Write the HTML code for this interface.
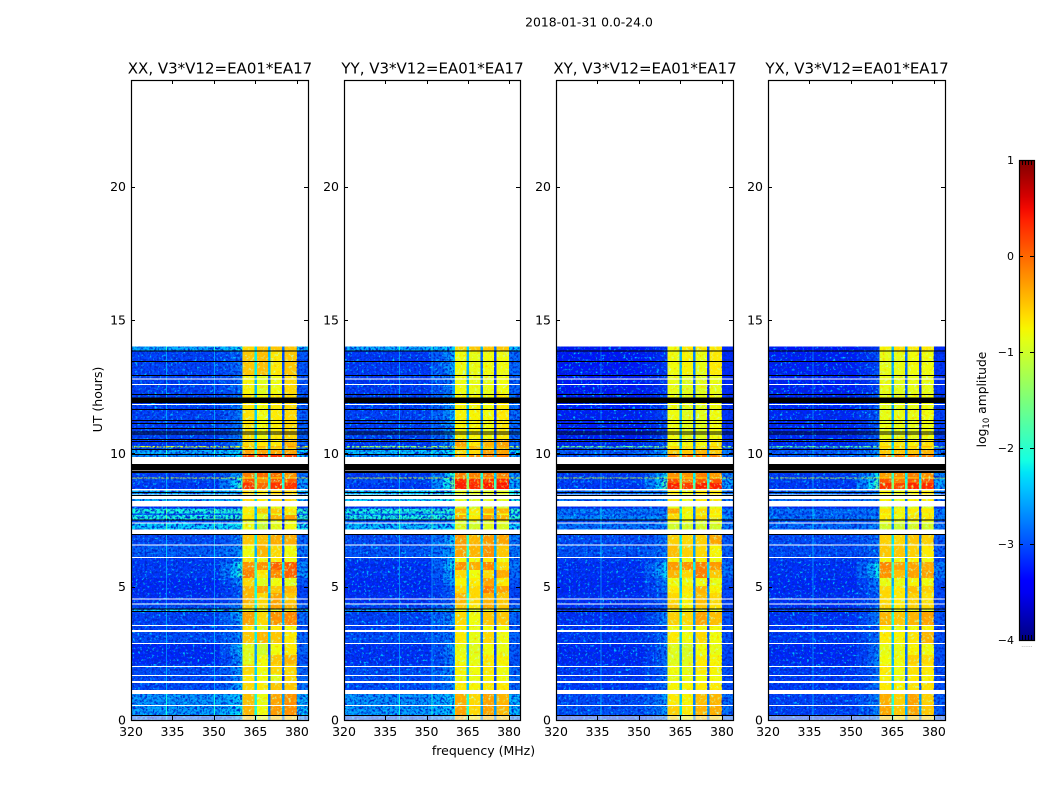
<!DOCTYPE html>
<html>
<head>
<meta charset="utf-8">
<title>2018-01-31 amplitude waterfall</title>
<style>
html,body{margin:0;padding:0;background:#fff;width:1050px;height:800px;overflow:hidden}
svg{display:block;font-family:"DejaVu Sans","Liberation Sans",sans-serif;fill:#000}
</style>
</head>
<body>
<svg id="chart" xmlns="http://www.w3.org/2000/svg" width="1050" height="800" viewBox="0 0 1050 800">
<defs>
<filter id="speckleDark" x="0" y="0" width="1" height="1">
<feTurbulence type="fractalNoise" baseFrequency="0.42" numOctaves="2" seed="3"/>
<feColorMatrix type="matrix" values="0 0 0 0 0  0 0 0 0 0.02  0 0 0 0 0.62  2.6 2.6 0 0 -2.3"/>
</filter>
<filter id="speckleLight" x="0" y="0" width="1" height="1">
<feTurbulence type="fractalNoise" baseFrequency="0.42" numOctaves="2" seed="11"/>
<feColorMatrix type="matrix" values="0 0 0 0 0  0 0 0 0 0.55  0 0 0 0 1  2.6 2.6 0 0 -2.85"/>
</filter>
<filter id="speckleWarm" x="0" y="0" width="1" height="1">
<feTurbulence type="fractalNoise" baseFrequency="0.35" numOctaves="2" seed="7"/>
<feColorMatrix type="matrix" values="0 0 0 0 1  0 0 0 0 0.6  0 0 0 0 0  2.4 2.4 0 0 -2.6"/>
</filter>
<filter id="speckleCool" x="0" y="0" width="1" height="1">
<feTurbulence type="fractalNoise" baseFrequency="0.35" numOctaves="2" seed="19"/>
<feColorMatrix type="matrix" values="0 0 0 0 0.55  0 0 0 0 1  0 0 0 0 0.45  2.4 2.4 0 0 -2.6"/>
</filter>
</defs>
<text x="589" y="26.500" text-anchor="middle" font-size="12.400">2018-01-31 0.0-24.0</text>
<text x="483.500" y="755" text-anchor="middle" font-size="12.500">frequency (MHz)</text>
<text x="0" y="0" transform="translate(102 399.500) rotate(-90)" text-anchor="middle" font-size="12.500">UT (hours)</text>
<text x="0" y="0" transform="translate(986 399.500) rotate(-90)" text-anchor="middle" font-size="12.300">log<tspan font-size="8.500" dy="3">10</tspan><tspan dy="-3"> amplitude</tspan></text>
</svg>
<script>
// Time-row boundaries (hours UT), top to bottom
const rowEdges = [14.0,13.84,12.94,12.19,10.50,10.28,10.22,10.13,9.98,9.26,9.10,9.05,8.89,8.62,8.21,8.00,7.94,7.75,7.69,7.52,7.41,6.98,6.56,6.08,5.93,5.63,5.33,5.03,4.76,4.39,4.16,4.09,3.56,3.30,2.89,2.44,2.08,1.73,1.46,0.98,0.53,0.19,0];

// log10 amplitude per row: [quiet, ramp, band1, band2, band3, band4]
const seriesXX = [
[-2.5,-2.2,-.6,-.5,-.5,-.5],[-3.05,-2.8,-.5,-.45,-.7,-.5],[-3.05,-2.8,-.75,-.9,-.8,-.6],[-3.05,-2.7,-.65,-.8,-.7,-.6],
[-3.1,-2.6,-.6,-.7,-.7,-.4],[-.9,-.8,-.4,-.4,-.4,-.2],[-3,-2.6,-.7,-.6,-.6,-.6],[-2.5,-2.2,-.3,-.3,-.3,-.3],
[-2.6,-2.2,.25,.3,.3,.25],[-3.1,-2.4,-.1,0,0,-.2],[-.9,-.8,-.7,-.7,-.7,-.7],[-3,-2,.1,-.2,.1,.1],
[-3.1,-1.9,.3,0,.3,.3],[-2.5,-2.3,-.6,-.7,-.6,-.6],[-2.4,-2.2,-.8,-.9,-.8,-.8],[-3.2,-3,-.9,-1,-.9,-.9],
[-2.1,-2,-.7,-.5,-.5,-.7],[-2.9,-2.7,-.9,-.9,-.9,-.9],[-2.1,-2,-.7,-.9,-.4,-.3],[-3,-2.8,-.9,-.9,-.8,-.8],
[-2.3,-2.2,-.8,-1.1,-.9,-.8],[-3,-2.7,-.5,-.45,-.35,-.35],[-2.9,-2.6,-.8,-.4,-.6,-.8],[-3.1,-2.6,-.7,-.8,-.7,-.8],
[-3.1,-2.1,-.2,-.2,.05,.1],[-3.1,-2,-.1,-.7,-.15,.05],[-3.2,-2.6,-.6,-.9,-.8,-.9],[-3.2,-2.9,-.4,-.3,-.5,-.4],
[-3.15,-2.9,-.4,-.6,-.3,-.5],[-3,-2.7,-.5,-.6,-.3,-.4],[-2.3,-2.2,-.9,-1,-.9,-.9],[-3.05,-2.5,-.3,-.6,-.2,-.15],
[-3.05,-2.8,-.7,-.9,-.7,-.8],[-3,-2.7,-.5,-.4,-.5,-.7],[-3.2,-2.4,-.9,-1,-.8,-.7],[-3.2,-2.6,-.9,-.8,-.5,-.4],
[-3,-2.6,-.6,-.8,-.6,-.6],[-3,-2.6,-.7,-.8,-.9,-.6],[-3,-2.5,-.6,-.7,-.5,-.5],[-2.6,-2.3,-.45,-.85,-.3,-.2],
[-2.55,-2.2,-.4,-.8,-.25,-.2],[-2.9,-2.5,-.5,-.8,-.5,-.5]];
const seriesYY = [
[-2.5,-2.3,-.6,-.5,-.5,-.5],[-3.1,-2.5,-.8,-.85,-.8,-.8],[-3.1,-2.6,-.8,-.85,-.85,-.8],[-3.05,-2.5,-.75,-.75,-.8,-.7],
[-3.1,-2.5,-.3,-.7,-.4,-.3],[-1.3,-1.2,-.4,-.4,-.4,-.3],[-3,-2.5,-.6,-.5,-.6,-.5],[-2.4,-2.2,-.6,-.6,-.3,-.3],
[-2.6,-2.4,-.4,-.2,-.1,-.1],[-3.1,-2,-.1,-.1,-.05,-.1],[-.9,-.9,-.5,-.5,-.5,-.5],[-3,-1.7,.35,.3,.3,.35],
[-3.1,-1.7,.4,.35,.45,.45],[-2.3,-2.1,-.9,-.9,-.9,-.9],[-2.3,-2.2,-.85,-.85,-.9,-.9],[-3.1,-3,-1,-1,-1,-1],
[-2.1,-2,-.4,-.7,-.4,-.4],[-2.7,-2.6,-.8,-.9,-.8,-.8],[-2.1,-2,-.35,-.7,-.3,-.4],[-3,-2.8,-.9,-1,-.9,-.9],
[-2.4,-2.3,-.95,-1,-.9,-.95],[-3,-2.4,-.25,-.4,-.25,-.3],[-2.95,-2.5,-.3,-.4,-.2,-.5],[-3.1,-2.4,-.8,-.8,-.7,-.8],
[-3.15,-2.2,-.2,-.35,-.15,-.6],[-3.15,-2.4,-.6,-.8,-.6,-.35],[-3.2,-2.6,-.75,-.7,-.3,-.7],[-3.2,-2.8,-.6,-.6,-.1,-.3],
[-3.15,-2.9,-.4,-.6,-.4,-.5],[-3.05,-2.7,-.5,-.7,-.35,-.5],[-2.5,-2.4,-.9,-1,-.9,-.9],[-3.05,-2.6,-.6,-.8,-.5,-.5],
[-3.05,-2.7,-.75,-.85,-.8,-.8],[-3,-2.7,-.7,-.85,-.6,-.8],[-3.15,-2.6,-.85,-.9,-.8,-.85],[-3.15,-2.7,-.8,-.85,-.7,-.75],
[-3,-2.6,-.75,-.8,-.7,-.8],[-3,-2.6,-.85,-.85,-.75,-.8],[-3,-2.6,-.7,-.75,-.7,-.7],[-2.6,-2.3,-.35,-.6,-.3,-.4],
[-2.55,-2.3,-.3,-.6,-.3,-.4],[-2.9,-2.5,-.4,-.7,-.45,-.5]];
const seriesXY = [
[-3.3,-3.1,-.8,-.7,-.7,-.7],[-3.3,-3.1,-.8,-.75,-.85,-.7],[-3.3,-3.1,-.85,-.9,-.9,-.85],[-3.25,-3,-.8,-.9,-.9,-.8],
[-3.2,-2.9,-.8,-.8,-.8,-.7],[-1.6,-1.4,-.6,-.6,-.6,-.5],[-3.1,-2.8,-.7,-.7,-.7,-.7],[-2.9,-2.6,-.5,-.5,-.4,-.5],
[-2.9,-2.5,-.1,0,-.1,-.1],[-3.1,-2.2,-.2,-.2,-.1,-.25],[-1,-1,-.6,-.6,-.6,-.6],[-3.05,-1.9,.15,-.1,.1,.1],
[-3.1,-1.8,.4,.25,.4,.4],[-2.8,-2.7,-.7,-.8,-.7,-.7],[-2.7,-2.6,-.8,-.9,-.8,-.8],[-3.2,-3.1,-.9,-.95,-.9,-.9],
[-2.75,-2.7,-.3,-.75,-.6,-.7],[-2.95,-2.9,-.7,-.85,-.8,-.8],[-2.7,-2.6,-.6,-.8,-.6,-.7],[-3,-2.9,-.8,-.85,-.85,-.85],
[-2.8,-2.7,-1,-1,-1,-1],[-3,-2.8,-.55,-.6,-.55,-.3],[-2.95,-2.8,-.45,-.55,-.6,-.75],[-3.1,-2.8,-.75,-.8,-.75,-.8],
[-3.15,-2.3,-.25,-.2,-.1,-.25],[-3.15,-2.3,-.4,-.6,-.1,-.5],[-3.2,-2.7,-.8,-.8,-.8,-.85],[-3.2,-2.8,-.7,-.7,-.4,-.75],
[-3.15,-2.9,-.6,-.75,-.45,-.6],[-3.15,-2.9,-.5,-.75,-.5,-.65],[-3.05,-2.9,-.9,-.95,-.9,-.9],[-3.15,-2.7,-.55,-.6,-.3,-.45],
[-3.1,-2.9,-.8,-.85,-.8,-.8],[-3.1,-2.8,-.7,-.8,-.6,-.8],[-3.2,-2.8,-.9,-.95,-.8,-.85],[-3.2,-2.8,-.9,-.9,-.7,-.75],
[-3.1,-2.8,-.8,-.85,-.7,-.75],[-3.1,-2.8,-.85,-.85,-.8,-.8],[-3.1,-2.8,-.75,-.75,-.7,-.7],[-3,-2.6,-.7,-.75,-.45,-.4],
[-2.95,-2.6,-.55,-.7,-.4,-.35],[-3.05,-2.7,-.6,-.75,-.5,-.55]];
const seriesYX = [
[-3.3,-3.1,-.75,-.65,-.7,-.7],[-3.25,-3,-.85,-.85,-.8,-.8],[-3.25,-3,-.85,-.9,-.85,-.85],[-3.2,-2.9,-.85,-.85,-.85,-.8],
[-3.2,-2.8,-.7,-.7,-.75,-.65],[-1.7,-1.5,-.5,-.5,-.5,-.4],[-3.1,-2.8,-.7,-.7,-.7,-.7],[-2.9,-2.6,-.5,-.5,-.5,-.4],
[-2.9,-2.5,-.2,-.1,-.1,-.1],[-3.1,-2.2,-.25,-.2,-.1,-.2],[-1.1,-1,-.6,-.6,-.6,-.6],[-3.05,-1.9,.1,-.1,.1,.1],
[-3.1,-1.8,.3,.2,.35,.35],[-2.8,-2.7,-.75,-.85,-.75,-.7],[-2.75,-2.6,-.85,-.9,-.85,-.85],[-3.2,-3.1,-.95,-1,-.95,-.95],
[-2.8,-2.7,-.65,-.75,-.7,-.7],[-2.95,-2.9,-.8,-.9,-.85,-.85],[-2.8,-2.7,-.7,-.8,-.65,-.7],[-3,-2.9,-.85,-.9,-.85,-.85],
[-2.85,-2.7,-1,-1.05,-1,-1],[-3,-2.8,-.55,-.6,-.5,-.55],[-3,-2.8,-.5,-.5,-.55,-.7],[-3.1,-2.8,-.75,-.8,-.75,-.8],
[-3.15,-2.2,-.15,-.3,-.3,-.35],[-3.15,-2.2,-.2,-.45,-.3,-.3],[-3.2,-2.7,-.85,-.85,-.75,-.8],[-3.2,-2.8,-.6,-.7,-.45,-.55],
[-3.15,-2.9,-.6,-.7,-.55,-.65],[-3.15,-2.9,-.55,-.7,-.55,-.6],[-3.05,-2.9,-.9,-.95,-.9,-.9],[-3.15,-2.7,-.4,-.5,-.4,-.3],
[-3.1,-2.9,-.75,-.85,-.8,-.75],[-3.1,-2.8,-.7,-.75,-.65,-.4],[-3.2,-2.7,-.85,-.85,-.75,-.8],[-3.2,-2.7,-.8,-.8,-.55,-.6],
[-3.1,-2.8,-.7,-.8,-.65,-.7],[-3.1,-2.8,-.75,-.85,-.7,-.75],[-3.1,-2.8,-.7,-.75,-.65,-.65],[-3.05,-2.7,-.35,-.55,-.3,-.55],
[-3.05,-2.7,-.3,-.5,-.3,-.5],[-3.05,-2.7,-.5,-.65,-.5,-.55]];

// Flagged intervals across all panels: [hour top, hour bottom]
const blankRows = [[12.81,12.77],[12.60,12.56],[11.85,11.81],[9.86,9.60],[9.36,9.33],[8.66,8.60],[8.46,8.29],[8.21,8.00],[7.40,7.39],[7.15,6.97],[6.58,6.55],[6.11,6.08],[4.56,4.52],[4.37,4.34],[3.56,3.53],[3.38,3.30],[2.89,2.85],[2.03,1.99],[1.69,1.65],[1.46,1.39],[1.13,0.98],[0.56,0.52],[0.13,0.09],[0.06,0.03]];
const flaggedRows = [[13.86,13.82],[13.46,13.42],[12.94,12.90],[12.23,12.19],[12.10,11.89],[11.66,11.62],[11.25,11.21],[11.14,11.10],[10.95,10.91],[10.82,10.78],[10.74,10.70],[10.54,10.50],[10.47,10.43],[10.17,10.13],[9.98,9.94],[9.60,9.36],[9.33,9.26],[8.55,8.51],[8.44,8.40],[7.52,7.48],[6.97,6.93],[4.18,4.14],[4.09,4.05],[0.19,0.15]];

// Narrow interference lines (MHz) per panel
const linesXX = [332.6,350];
const linesYY = [340,351.8];
const linesXY = [336];
const linesYX = [336];

// Axis tick labels
const xTicks = [320,335,350,365,380];
const yTicks = [0,5,10,15,20];
const cbTicks = [1,0,-1,-2,-3,-4];
const panelTitles = ["XX, V3*V12=EA01*EA17","YY, V3*V12=EA01*EA17","XY, V3*V12=EA01*EA17","YX, V3*V12=EA01*EA17"];
const panelSeries = [seriesXX,seriesYY,seriesXY,seriesYX];
const panelLines = [linesXX,linesYY,linesXY,linesYX];

const panelLeft = [131,344,556,768];
const panelWidth = [177,176,177,177];
const plotTop = 80, plotBottom = 720;
const fMin = 320, fMax = 384, hMax = 24;
const vMin = -4, vMax = 1;
const NS = "http://www.w3.org/2000/svg";
const svg = document.getElementById("chart");

function xScale(f, p){ return panelLeft[p] + (f - fMin) / (fMax - fMin) * panelWidth[p]; }
function yScale(h){ return plotBottom - h / hMax * (plotBottom - plotTop); }
function clamp(a){ return Math.max(0, Math.min(1, a)); }
function jet(t){
  const r = t < .35 ? 0 : t < .66 ? (t - .35) / .31 : t < .89 ? 1 : 1 - (t - .89) / .11 * .5;
  const g = t < .125 ? 0 : t < .375 ? (t - .125) / .25 : t < .64 ? 1 : t < .91 ? 1 - (t - .64) / .27 : 0;
  const b = t < .11 ? .5 + t / .11 * .5 : t < .34 ? 1 : t < .65 ? 1 - (t - .34) / .31 : 0;
  return "rgb(" + Math.round(r * 255) + "," + Math.round(g * 255) + "," + Math.round(b * 255) + ")";
}
function colour(v){ return jet(clamp((v - vMin) / (vMax - vMin))); }

// Frequency segments: from MHz, to MHz, and how the row values feed the cell
const segEdges = [[320,352,0],[352,356,1],[356,358.5,2],[358.5,360.4,3],[360.4,364.6,4],[364.6,365.5,8],[365.5,369.6,5],[369.6,370.5,9],[370.5,374.6,6],[374.6,375.5,10],[375.5,380,7],[380,384,11]];
function cellValue(row, kind){
  const q = row[0], r = row[1];
  if (kind === 0) return q;
  if (kind === 1) return q + (r - q) * .3;
  if (kind === 2) return q + (r - q) * .65;
  if (kind === 3) return r;
  if (kind >= 4 && kind <= 7) return row[kind - 2];
  if (kind === 8) return row[2] - 1.7;
  if (kind === 9) return row[3] - 2.0;
  if (kind === 10) return row[4] - 2.3;
  return q + (r - q) * .4 + .05;
}

function drawRect(parent, x, y, w, h, fill){
  const el = document.createElementNS(NS, "rect");
  el.setAttribute("x", x);
  el.setAttribute("y", y);
  el.setAttribute("width", w);
  el.setAttribute("height", h);
  el.setAttribute("fill", fill);
  parent.appendChild(el);
  return el;
}
function drawLine(parent, x1, y1, x2, y2){
  const el = document.createElementNS(NS, "line");
  el.setAttribute("x1", x1);
  el.setAttribute("y1", y1);
  el.setAttribute("x2", x2);
  el.setAttribute("y2", y2);
  el.setAttribute("stroke", "#000");
  el.setAttribute("stroke-width", "1");
  parent.appendChild(el);
  return el;
}
function drawText(parent, x, y, str, anchor, size){
  const el = document.createElementNS(NS, "text");
  el.setAttribute("x", x);
  el.setAttribute("y", y);
  el.setAttribute("text-anchor", anchor);
  el.setAttribute("font-size", size);
  el.textContent = str;
  parent.appendChild(el);
  return el;
}
function drawSpeckle(parent, f0, f1, p, filterId){
  const x0 = xScale(f0, p), x1 = xScale(f1, p), y0 = yScale(rowEdges[0]), y1 = yScale(0);
  const el = drawRect(parent, x0, y0, x1 - x0, y1 - y0, "#000");
  el.setAttribute("filter", "url(#" + filterId + ")");
  
  
  return el;
}

panelSeries.forEach(function(series, p){
  const g = document.createElementNS(NS, "g");
  
  
  g.setAttribute("shape-rendering", "crispEdges");
  svg.appendChild(g);

  series.forEach(function(row, i){
    const y0 = yScale(rowEdges[i]), y1 = yScale(rowEdges[i + 1]);
    segEdges.forEach(function(seg){
      const x0 = xScale(seg[0], p), x1 = xScale(seg[1], p);
      const cell = drawRect(g, x0, y0, x1 - x0, y1 - y0, colour(cellValue(row, seg[2])));
      
      
    });
  });

  drawSpeckle(g, 320, 360, p, "speckleDark");
  drawSpeckle(g, 320, 360, p, "speckleLight");
  drawSpeckle(g, 380, 384, p, "speckleDark");
  [[360.4,364.6],[365.5,369.6],[370.5,374.6],[375.5,380]].forEach(function(b){
    drawSpeckle(g, b[0], b[1], p, "speckleWarm");
    drawSpeckle(g, b[0], b[1], p, "speckleCool");
  });

  series.forEach(function(row, i){
    const y0 = yScale(rowEdges[i]), y1 = yScale(rowEdges[i + 1]);
    panelLines[p].forEach(function(f){
      const lx = xScale(f, p);
      const cell = drawRect(g, lx, y0, 1, y1 - y0, colour(row[0] + .45));
      
      
    });
  });

  blankRows.forEach(function(b){
    const el = drawRect(g, panelLeft[p], yScale(b[0]), panelWidth[p], Math.max(1, yScale(b[1]) - yScale(b[0])), "#fff");
    
    
  });
  flaggedRows.forEach(function(b){
    const el = drawRect(g, panelLeft[p], yScale(b[0]), panelWidth[p], Math.max(1, yScale(b[1]) - yScale(b[0])), "#000");
    
    
  });

  const ax = document.createElementNS(NS, "g");
  
  
  svg.appendChild(ax);

  const frame = drawRect(ax, panelLeft[p] + .5, plotTop + .5, panelWidth[p], plotBottom - plotTop, "none");
  frame.setAttribute("stroke", "#000");
  frame.setAttribute("stroke-width", "1.2");
  
  

  xTicks.forEach(function(t){
    const x = Math.round(xScale(t, p)) + .5;
    const a = drawLine(ax, x, plotBottom, x, plotBottom - 4);
    
    
    const b = drawLine(ax, x, plotTop, x, plotTop + 4);
    
    
    const lab = drawText(ax, xScale(t, p), 736, String(t), "middle", 12.5);
    
    
  });
  yTicks.forEach(function(t){
    const y = Math.round(yScale(t)) + .5;
    const a = drawLine(ax, panelLeft[p], y, panelLeft[p] + 4, y);
    
    
    const b = drawLine(ax, panelLeft[p] + panelWidth[p] - 4, y, panelLeft[p] + panelWidth[p], y);
    
    
    const lab = drawText(ax, panelLeft[p] - 5, yScale(t) + 4.500, String(t), "end", 12.5);
    
    
  });
  const title = drawText(ax, panelLeft[p] + panelWidth[p] / 2 + .5, 73.500, panelTitles[p], "middle", 15);
  
  
});

// Colorbar
const cbX = 1019, cbW = 15, cbTop = 160, cbBottom = 640;
function cbScale(v){ return cbBottom - (v - vMin) / (vMax - vMin) * (cbBottom - cbTop); }
const defs = svg.querySelector("defs");
const grad = document.createElementNS(NS, "linearGradient");
grad.setAttribute("id", "jetGrad");
grad.setAttribute("x1", "0");
grad.setAttribute("y1", "1");
grad.setAttribute("x2", "0");
grad.setAttribute("y2", "0");
for (let i = 0; i <= 40; i++) {
  const st = document.createElementNS(NS, "stop");
  st.setAttribute("offset", i / 40);
  st.setAttribute("stop-color", jet(i / 40));
  grad.appendChild(st);
}
defs.appendChild(grad);

const cb = document.createElementNS(NS, "g");


svg.appendChild(cb);
const cbBar = drawRect(cb, cbX + .5, cbTop + .5, cbW, cbBottom - cbTop, "url(#jetGrad)");
cbBar.setAttribute("stroke", "#000");
cbBar.setAttribute("stroke-width", "1.2");


cbTicks.forEach(function(t){
  const y = Math.round(cbScale(t)) + .5;
  const a = drawLine(cb, cbX, y, cbX + 4, y);
  
  
  const b = drawLine(cb, cbX + cbW - 4, y, cbX + cbW, y);
  
  
  const lab = drawText(cb, cbX - 5, cbScale(t) + 4, String(t).replace("-", "\u2212"), "end", 11);
  
  
});
[3,6,9,12].forEach(function(dx){
  const a = drawLine(cb, cbX + dx + .5, cbTop, cbX + dx + .5, cbTop + 5);
  
  
  const b = drawLine(cb, cbX + dx + .5, cbBottom - 5, cbX + dx + .5, cbBottom);
  
  
});
const dots = drawText(cb, cbX + 8, 647, "......", "middle", 6);
dots.setAttribute("fill", "#888");


</script>
</body>
</html>
